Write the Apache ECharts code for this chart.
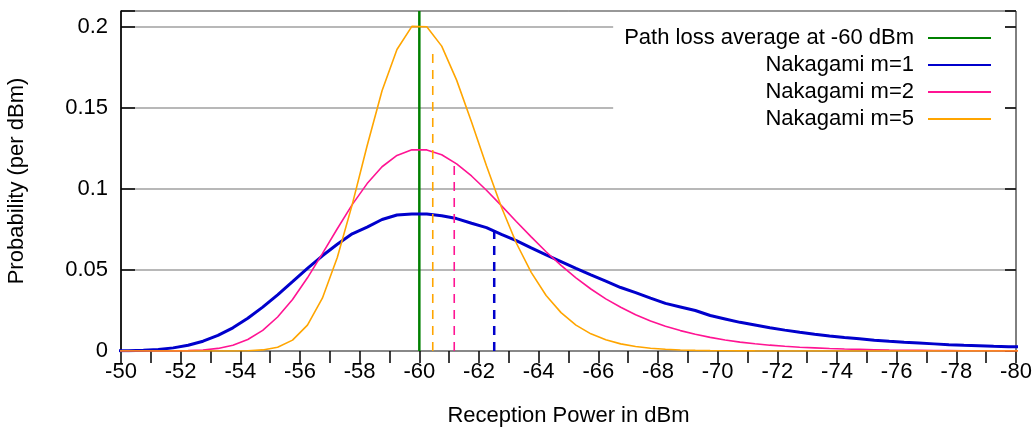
<!DOCTYPE html>
<html>
<head>
<meta charset="utf-8">
<script src="https://cdn.jsdelivr.net/npm/echarts@6/dist/echarts.min.js"></script>
<style>
html,body{margin:0;padding:0;background:#fff;}
#chart{width:1034px;height:430px;}
</style>
</head>
<body>
<div id="chart"></div>
<script>
// Reception power sample points (dBm)
var powerDbm = [-49.75,-50.25,-50.75,-51.25,-51.75,-52.25,-52.75,-53.25,-53.75,-54.25,-54.75,-55.25,-55.75,-56.25,-56.75,-57.25,-57.75,-58.25,-58.75,-59.25,-59.75,-60.25,-60.75,-61.25,-61.75,-62.25,-62.75,-63.25,-63.75,-64.25,-64.75,-65.25,-65.75,-66.25,-66.75,-67.25,-67.75,-68.25,-68.75,-69.25,-69.75,-70.25,-70.75,-71.25,-71.75,-72.25,-72.75,-73.25,-73.75,-74.25,-74.75,-75.25,-75.75,-76.25,-76.75,-77.25,-77.75,-78.25,-78.75,-79.25,-79.75,-80.25];

var nakagami1 = [0.00006,0.00017,0.00043,0.00096,0.00193,0.00355,0.00605,0.0096,0.0143,0.0202,0.0271,0.0347,0.0428,0.0510,0.0588,0.0659,0.0724,0.0765,0.0812,0.0840,0.0846,0.0846,0.0835,0.0818,0.0789,0.0762,0.0721,0.0682,0.0637,0.0594,0.0552,0.0510,0.0470,0.0431,0.0392,0.0361,0.0327,0.0294,0.0272,0.0250,0.0219,0.0198,0.0177,0.0160,0.0143,0.0129,0.0116,0.0104,0.0093,0.0083,0.0075,0.0067,0.0060,0.0054,0.0049,0.0044,0.0039,0.0035,0.0032,0.0029,0.0027,0.0025];

var nakagami2 = [0,0,0.000003,0.000016,0.000065,0.00022,0.00064,0.0016,0.0036,0.0071,0.0127,0.0210,0.0318,0.0452,0.0601,0.0755,0.0904,0.1034,0.1138,0.1208,0.1243,0.1242,0.1212,0.1156,0.1081,0.0993,0.0898,0.0800,0.0705,0.0613,0.0529,0.0452,0.0383,0.0322,0.0270,0.0224,0.0186,0.0153,0.0126,0.0103,0.0084,0.0068,0.0055,0.0045,0.0036,0.0029,0.0023,0.0019,0.0015,0.0012,0.0010,0.0008,0.0006,0.0005,0.0004,0.0003,0.00025,0.0002,0.00016,0.00013,0.0001,0.00008];

var nakagami5 = [0,0,0,0,0,0,0,0,0.00003,0.00016,0.00067,0.0023,0.0067,0.0160,0.0326,0.0577,0.0904,0.1268,0.1607,0.1862,0.2005,0.2003,0.1883,0.1673,0.1415,0.1144,0.0889,0.0667,0.0486,0.0343,0.0237,0.0160,0.0106,0.0069,0.0044,0.0028,0.0017,0.0011,0.00065,0.00039,0.00024,0.00014,0.00008,0.00005,0.00003,0.00002,0.00001,0,0,0,0,0,0,0,0,0,0,0,0,0,0,0];

// Average path loss marker
var pathLossAvg = -60;
var pathLossTop = 0.21;

// Mean of each distribution in dBm and its density (dashed markers)
var meanDbm = [-62.51, -61.17, -60.45];
var meanPdf = [0.0745, 0.1145, 0.186];

var seriesNames = ['Path loss average at -60 dBm', 'Nakagami m=1', 'Nakagami m=2', 'Nakagami m=5'];
var xTickLabels = [-50,-52,-54,-56,-58,-60,-62,-64,-66,-68,-70,-72,-74,-76,-78,-80];
var yTickLabels = [0, 0.05, 0.1, 0.15, 0.2];

var colors = ['#008000', '#0000cc', '#ff1493', '#ffa500'];
var FONT = "'Liberation Sans', Arial, Helvetica, sans-serif";

function zip(xs, ys) {
  return xs.map(function (x, i) { return [x, ys[i]]; });
}

var chart = echarts.init(document.getElementById('chart'), null, {renderer: 'canvas'});

var option = {
  animation: false,
  backgroundColor: '#fff',
  textStyle: {fontFamily: FONT},
  grid: {
    left: 121, right: 18, top: 11, bottom: 79,
    show: true, borderColor: '#000', borderWidth: 1,
    containLabel: false, outerBoundsMode: 'none'
  },
  legend: {
    orient: 'vertical',
    right: 29, top: 19,
    align: 'right',
    icon: 'rect',
    itemWidth: 63, itemHeight: 2, itemGap: 5,
    padding: [8, 14, 8, 11],
    backgroundColor: '#fff',
    data: seriesNames,
    textStyle: {fontSize: 22, color: '#000', fontFamily: FONT, padding: [0, 9, 0, 0]}
  },
  xAxis: {
    type: 'value',
    min: -80, max: -50, interval: 2,
    inverse: true,
    name: 'Reception Power in dBm',
    nameLocation: 'middle',
    nameGap: 54,
    nameTextStyle: {fontSize: 22, color: '#000', fontFamily: FONT},
    axisLine: {show: true, onZero: false, lineStyle: {color: '#888', width: 2}},
    axisTick: {show: true, inside: false, length: 12, lineStyle: {color: '#000', width: 1.5}},
    minorTick: {show: true, splitNumber: 2, length: 12, lineStyle: {color: '#000', width: 1.5}},
    axisLabel: {
      fontSize: 22, color: '#000', fontFamily: FONT, margin: 10,
      formatter: function (v) {
        var r = Math.round(v);
        return xTickLabels.indexOf(r) >= 0 ? String(r) : '';
      }
    },
    splitLine: {show: false}
  },
  yAxis: [{
    type: 'value',
    min: 0, max: 0.21, interval: 0.05,
    name: 'Probability (per dBm)',
    nameLocation: 'middle',
    nameRotate: 90,
    nameGap: 93,
    nameTextStyle: {fontSize: 22, color: '#000', fontFamily: FONT},
    axisLine: {show: true, lineStyle: {color: '#000', width: 1.5}},
    axisTick: {show: true, inside: true, length: 14, lineStyle: {color: '#000', width: 1.5}},
    axisLabel: {
      fontSize: 22, color: '#000', fontFamily: FONT, margin: 13,
      formatter: function (v) {
        var r = Number(v.toFixed(2));
        return yTickLabels.indexOf(r) >= 0 ? String(r) : '';
      }
    },
    splitLine: {show: true, lineStyle: {color: '#a0a0a0', width: 1.5}}
  }, {
    type: 'value',
    position: 'right',
    min: 0, max: 0.21, interval: 0.05,
    axisLine: {show: false},
    axisTick: {show: true, inside: true, length: 11, lineStyle: {color: '#000', width: 1.5}},
    axisLabel: {show: false},
    splitLine: {show: false}
  }],
  series: [
    {
      name: seriesNames[0], type: 'line', symbol: 'none', color: colors[0],
      lineStyle: {width: 2.5, color: colors[0]},
      data: [[pathLossAvg, 0], [pathLossAvg, pathLossTop]], z: 2
    },
    {
      name: seriesNames[1], type: 'line', symbol: 'none', color: colors[1],
      lineStyle: {width: 3, color: colors[1]},
      data: zip(powerDbm, nakagami1), z: 3
    },
    {
      name: seriesNames[2], type: 'line', symbol: 'none', color: colors[2],
      lineStyle: {width: 1.6, color: colors[2]},
      data: zip(powerDbm, nakagami2), z: 4
    },
    {
      name: seriesNames[3], type: 'line', symbol: 'none', color: colors[3],
      lineStyle: {width: 1.6, color: colors[3]},
      data: zip(powerDbm, nakagami5), z: 5
    },
    {
      name: 'mean1', type: 'line', symbol: 'none', silent: true,
      lineStyle: {width: 2.5, color: colors[1], type: [9, 7]},
      data: [[meanDbm[0], 0], [meanDbm[0], meanPdf[0]]], z: 3
    },
    {
      name: 'mean2', type: 'line', symbol: 'none', silent: true,
      lineStyle: {width: 1.6, color: colors[2], type: [9, 7]},
      data: [[meanDbm[1], 0], [meanDbm[1], meanPdf[1]]], z: 4
    },
    {
      name: 'mean5', type: 'line', symbol: 'none', silent: true,
      lineStyle: {width: 1.6, color: colors[3], type: [9, 7]},
      data: [[meanDbm[2], 0], [meanDbm[2], meanPdf[2]]], z: 5
    }
  ]
};
chart.setOption(option);
</script>
</body>
</html>
